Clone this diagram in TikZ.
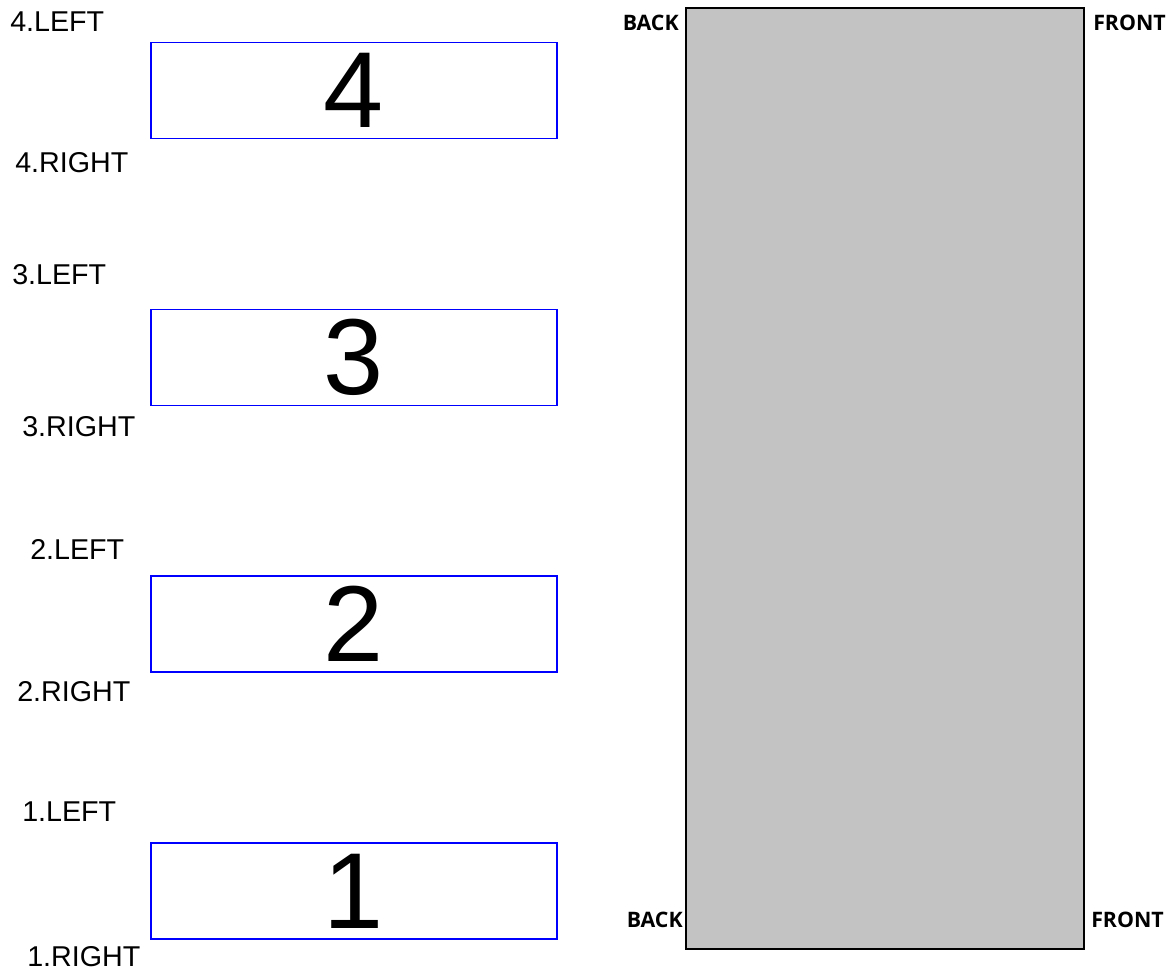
\documentclass[tikz,border=0pt]{standalone}
\usepackage{fontspec}
\setmainfont{Liberation Sans}
\newfontfamily\edgefont{Open Sans}
\begin{document}
\begin{tikzpicture}[x=0.75pt,y=-0.75pt,
    slot/.style={draw=blue,line width=1.1pt,minimum width=304.5pt,minimum height=72pt,inner sep=0pt,font=\fontsize{81}{90}\selectfont},
    side/.style={anchor=west,inner sep=0pt,font=\fontsize{21.5}{24}\selectfont},
    edge/.style={inner sep=0pt,font=\edgefont\bfseries\fontsize{16}{18}\selectfont}
]
\useasboundingbox (0,0) rectangle (1175,972);
\node[draw=black,line width=1.1pt,fill={rgb,255:red,195;green,195;blue,195},minimum width=298.5pt,minimum height=705.75pt,inner sep=0pt] (T) at (885,478.5) {};

\node[slot] (S4) at (354,90.5)  {4};
\node[slot] (S3) at (354,357.5) {3};
\node[slot] (S2) at (354,624)   {2};
\node[slot] (S1) at (354,891)   {1};

\node[side] (L4) at (10,22)  {4.LEFT};
\node[side] (R4) at (15,163) {4.RIGHT};
\node[side] (L3) at (12,275) {3.LEFT};
\node[side] (R3) at (22,427) {3.RIGHT};
\node[side] (L2) at (30,549) {2.LEFT};
\node[side] (R2) at (17,692) {2.RIGHT};
\node[side] (L1) at (22,812) {1.LEFT};
\node[side] (R1) at (27,957) {1.RIGHT};

\node[edge,anchor=east] (BT) at (679,23)  {BACK};
\node[edge,anchor=west] (FT) at (1093,23) {FRONT};
\node[edge,anchor=east] (BB) at (683,920) {BACK};
\node[edge,anchor=west] (FB) at (1091,920) {FRONT};
\end{tikzpicture}
\end{document}
